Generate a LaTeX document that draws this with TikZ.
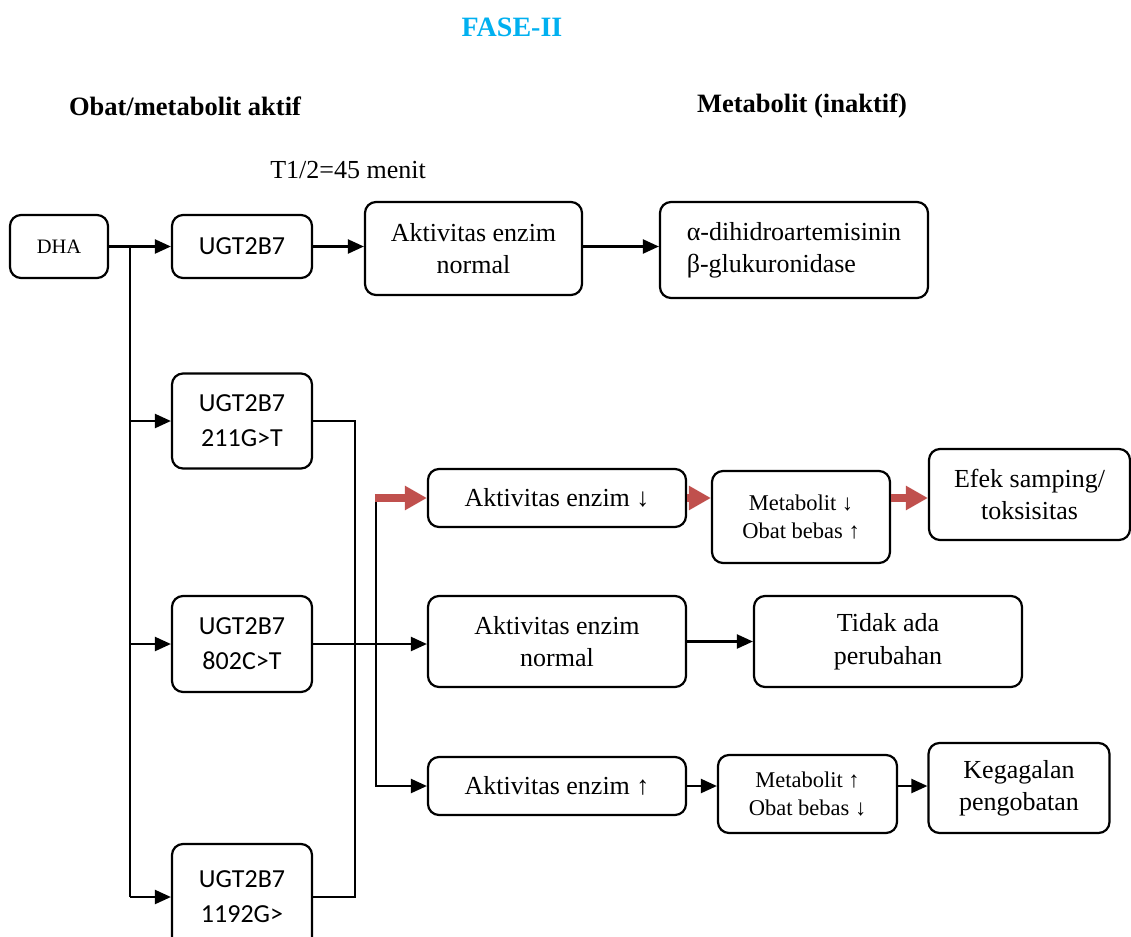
\documentclass[tikz,border=0pt]{standalone}
\usepackage{fontspec}
\setmainfont{Liberation Serif}
\newfontfamily\carlfont{Carlito}
\usetikzlibrary{arrows.meta}
\definecolor{faseblue}{HTML}{00B0F0}
\definecolor{redarr}{HTML}{C0504D}
\begin{document}
\begin{tikzpicture}[x=1pt,y=-1pt,
  box/.style={draw, line width=2.2pt, rounded corners=11pt, align=center, inner sep=0pt,
    font=\fontsize{26}{32}\selectfont},
  ugt/.style={box, font=\carlfont\fontsize{26}{35}\selectfont},
  small/.style={box, font=\fontsize{22.5}{28}\selectfont},
  conn/.style={line width=2.2pt},
  arr/.style={line width=2.2pt, -{Triangle[length=16pt,width=14pt]}},
  rarr/.style={draw=redarr, line width=8pt, -{Triangle[length=22pt,width=23pt]}},
  head/.style={font=\bfseries\fontsize{26.5}{30}\selectfont}
]
\clip (0,0) rectangle (1131,936);
\fill[white] (0,0) rectangle (1131,936);

% headings
\node[head, font=\bfseries\fontsize{28}{32}\selectfont, text=faseblue] (fase) at (512,27) {FASE-II};
\node[head] (h1) at (185,106) {Obat/metabolit aktif};
\node[head] (h2) at (802,106) {Metabolit (inaktif)};
\node[font=\fontsize{26}{30}\selectfont] (t12) at (348,170) {T1/2=45 menit};

% boxes
\node[box, font=\fontsize{20.5}{24}\selectfont, minimum width=98pt, minimum height=63pt] (dha) at (59,246.5) {DHA};
\node[ugt, minimum width=140pt, minimum height=63pt] (u0) at (242,246.5) {UGT2B7};
\node[box, minimum width=217pt, minimum height=93pt] (an0) at (473.5,248.5) {Aktivitas enzim\\normal};
\node[box, align=left, minimum width=268pt, minimum height=96pt] (ab) at (794,250) {α-dihidroartemisinin\\β-glukuronidase};

\node[ugt, minimum width=140pt, minimum height=95pt] (u1) at (242,421) {UGT2B7\\211G>T};
\node[ugt, minimum width=140pt, minimum height=96pt] (u2) at (242,644) {UGT2B7\\802C>T};
\node[ugt, minimum width=140pt, minimum height=106pt] (u3) at (242,897) {UGT2B7\\1192G>};

\node[box, minimum width=258pt, minimum height=58pt] (ad) at (557,498) {Aktivitas enzim ↓};
\node[small, minimum width=178pt, minimum height=92pt] (md) at (801,517) {Metabolit ↓\\Obat bebas ↑};
\node[box, minimum width=201pt, minimum height=91pt] (ef) at (1029.5,494.5) {Efek samping/\\toksisitas};

\node[box, minimum width=258pt, minimum height=91pt] (an1) at (557,641.5) {Aktivitas enzim\\normal};
\node[box, minimum width=268pt, minimum height=91pt] (tp) at (888,641.5) {Tidak ada\\[1pt]perubahan};

\node[box, minimum width=258pt, minimum height=58pt] (au) at (557,786) {Aktivitas enzim ↑};
\node[small, minimum width=179pt, minimum height=78pt] (mu) at (807.5,794) {Metabolit ↑\\Obat bebas ↓};
\node[box, minimum width=181pt, minimum height=90pt] (kg) at (1019,788) {Kegagalan\\pengobatan};

% trunk from DHA
\coordinate (tr) at (130,0);
\draw[arr] (dha.east) -- (u0.west);
\draw[conn] (dha.east -| tr) -- (u3.west -| tr);
\draw[arr] (u1.west -| tr) -- (u1.west);
\draw[arr] (u2.west -| tr) -- (u2.west);
\draw[arr] (u3.west -| tr) -- (u3.west);

% top row
\draw[arr] (u0.east) -- (u0.east -| an0.west);
\draw[arr] (an0.east |- u0.east) -- (ab.west |- u0.east);

% bracket 211G>T -- 1192G>
\coordinate (br) at (355,0);
\draw[conn, line join=miter] (u1.east) -- (u1.east -| br) -- (u3.east -| br) -- (u3.east);

% 802C>T to normal
\draw[arr] (u2.east) -- (u2.east -| an1.west);
\draw[arr] (an1.east) -- (an1.east -| tp.west);

% split bar
\coordinate (sb) at (376,0);
\draw[arr, line join=miter] (ad.west -| sb) -- (au.west -| sb) -- (au.west);
\draw[rarr] ([xshift=-1.1pt]ad.west -| sb) -- (ad.west);

% reduced activity chain
\draw[rarr] (ad.east) -- (ad.east -| md.west);
\draw[rarr] (md.east |- ad.east) -- (ef.west |- ad.east);

% increased activity chain
\draw[arr] (au.east) -- (au.east -| mu.west);
\draw[arr] (mu.east |- au.east) -- (kg.west |- au.east);
\end{tikzpicture}
\end{document}
